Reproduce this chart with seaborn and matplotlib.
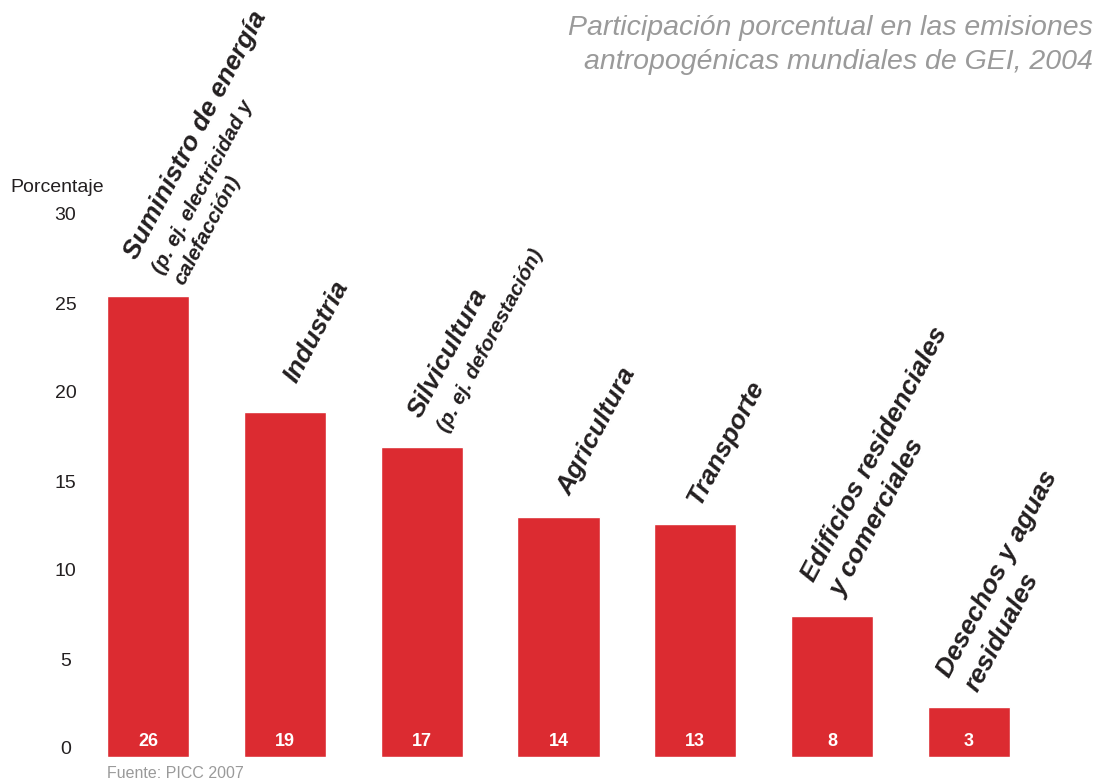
import matplotlib
matplotlib.use('Agg')
import matplotlib.pyplot as plt
from matplotlib.transforms import offset_copy, ScaledTranslation
import seaborn as sns

# datos (PICC 2007)
sectores = ["Suministro de energía", "Industria", "Silvicultura", "Agricultura",
            "Transporte", "Edificios residenciales\ny comerciales",
            "Desechos y aguas\nresiduales"]
subtitulos = ["(p. ej. electricidad y\ncalefacción)", "", "(p. ej. deforestación)",
              "", "", "", ""]
porcentajes = [25.9, 19.4, 17.4, 13.5, 13.1, 7.9, 2.8]
etiquetas = ["26", "19", "17", "14", "13", "8", "3"]
yticks = [0, 5, 10, 15, 20, 25, 30]

# desplazamiento (px) del inicio de cada rótulo respecto a la cima de la barra
desp = [(-12, 35), (11, 28), (-1, 28), (12, 20), (4, 17), (-18, 33), (-19, 29)]

sns.set_theme(style="white")
plt.rcParams['font.family'] = ['Liberation Sans', 'DejaVu Sans']

ROJO = '#dc2b31'
GRIS = '#9a9a9a'
NEGRO = '#231f20'

fig = plt.figure(figsize=(11.05, 7.83), dpi=100)
ax = fig.add_axes([80 / 1105, 26 / 783, 957 / 1105, 534 / 783])

sns.barplot(x=sectores, y=porcentajes, color=ROJO, saturation=1, width=0.6, ax=ax)
ax.set_xlim(-0.5, len(sectores) - 0.5)
ax.set_ylim(0, 30)
sns.despine(ax=ax, left=True, bottom=True)
ax.set_xticks([])
ax.set_xlabel("")
ax.set_ylabel("")
ax.set_yticks(yticks)
ax.set_yticklabels([str(t) for t in yticks], fontsize=14, color=NEGRO)
ax.tick_params(axis='y', length=0, pad=10.5)
up = ScaledTranslation(0, 0.09, fig.dpi_scale_trans)
for lab in ax.get_yticklabels():
    lab.set_horizontalalignment('center')
    lab.set_transform(lab.get_transform() + up)

ANG = 62
perp = (0.883, -0.469)   # dirección perpendicular al texto (hacia abajo-derecha)


def linea(i, v, texto, dx, dy, d, size):
    ax.text(i, v, texto,
            transform=offset_copy(ax.transData, fig=fig, x=dx + perp[0] * d,
                                  y=dy + perp[1] * d, units='dots'),
            rotation=ANG, rotation_mode='anchor', ha='left', va='baseline',
            fontsize=size, fontweight='bold', fontstyle='italic', color=NEGRO)


for i, (v, nombre, sub, lab) in enumerate(zip(porcentajes, sectores, subtitulos, etiquetas)):
    dx, dy = desp[i]
    d = 0
    for k, t in enumerate(nombre.split("\n")):
        if k:
            d += 32
        linea(i, v, t, dx, dy, d, 19)
    if sub:
        d += 30
        for k, t in enumerate(sub.split("\n")):
            if k:
                d += 24
            linea(i, v, t, dx, dy, d, 15)
    # valor redondeado dentro de la barra
    ax.text(i, 0, lab, transform=offset_copy(ax.transData, fig=fig, x=0, y=15, units='dots'),
            ha='center', va='center', fontsize=13, fontweight='bold', color='white')

fig.text(10 / 1105, 1 - 188 / 783, "Porcentaje", ha='left', va='center', fontsize=14, color=NEGRO)
fig.text(1093 / 1105, 1 - 15 / 783,
         "Participación porcentual en las emisiones\nantropogénicas mundiales de GEI, 2004",
         ha='right', va='top', fontsize=20.5, fontstyle='italic', color=GRIS, linespacing=1.42)
fig.text(107 / 1105, 1 - 773 / 783, "Fuente: PICC 2007", ha='left', va='center',
         fontsize=11.5, color=GRIS)

fig.savefig("out.png", dpi=100)
plt.close(fig)
